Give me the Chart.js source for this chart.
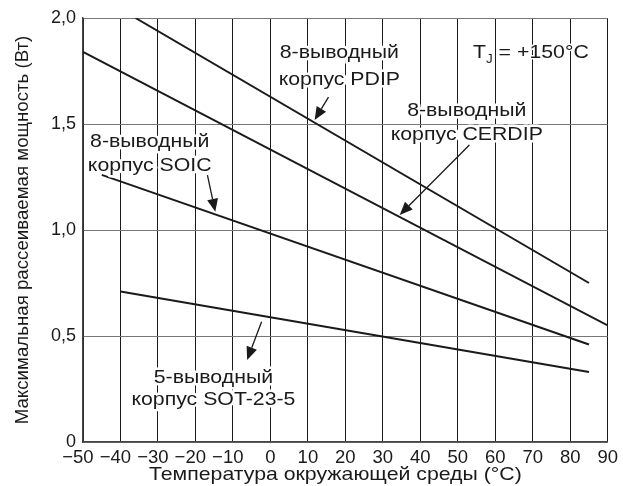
<!DOCTYPE html>
<html>
<head>
<meta charset="utf-8">
<script src="https://cdn.jsdelivr.net/npm/chart.js@4.4.1/dist/chart.umd.min.js"></script>
<style>
  html, body { margin: 0; padding: 0; background: #fff; }
  #wrap { width: 623px; height: 486px; position: relative; }
</style>
</head>
<body>
<div id="wrap"><canvas id="chartPotencia" width="623" height="486"></canvas></div>
<script>
// данные (температура, °C / мощность, Вт)
const pdipT = [-36, 85];
const pdipP = [2.0, 0.75];
const cerdipT = [-50, 90];
const cerdipP = [1.84, 0.55];
const soicT = [-45, 85];
const soicP = [1.26, 0.46];
const sotT = [-40, 85];
const sotP = [0.71, 0.33];

const xTicks = [-50, -40, -30, -20, -10, 0, 10, 20, 30, 40, 50, 60, 70, 80, 90];
const yTicks = [0, 0.5, 1.0, 1.5, 2.0];

const xTitulo = "Температура окружающей среды (°C)";
const yTitulo = "Максимальная рассеиваемая мощность (Вт)";

// подписи: строки текста, центр в единицах осей
const labels = [
    { lines: ["8-выводный", "корпус PDIP"], x: 18.4, y: [1.838, 1.711] },
    { lines: ["8-выводный", "корпус CERDIP"], x: 52.4, y: [1.564, 1.447] },
    { lines: ["8-выводный", "корпус SOIC"], x: -32.2, y: [1.414, 1.303] },
    { lines: ["5-выводный", "корпус SOT-23-5"], x: -15.2, y: [0.305, 0.201] }
];
// стрелки: откуда -> куда (в единицах осей)
const arrows = [
    { from: [15.5, 1.627], to: [11.8, 1.519] },
    { from: [53.1, 1.401], to: [34.5, 1.071] },
    { from: [-16.8, 1.259], to: [-14.7, 1.086] },
    { from: [-2.35, 0.567], to: [-6.2, 0.387] }
];
const tjPos = { x: 69.5, y: 1.835 };

const FONT = "'Liberation Sans', Arial, sans-serif";
const INK = "#1a1a1a";
const ESTIRAR = 1.12;   // текст в оригинале чуть растянут по горизонтали

function pts(t, p) {
    return t.map((v, i) => ({ x: v, y: p[i] }));
}

function serie(t, p) {
    return {
        data: pts(t, p),
        borderColor: INK,
        borderWidth: 2,
        pointRadius: 0,
        tension: 0,
        fill: false
    };
}

// текст с белым ореолом, растянутый по горизонтали
function texto(ctx, txt, x, y, size, align, halo) {
    ctx.save();
    ctx.translate(x, y);
    ctx.scale(ESTIRAR, 1);
    ctx.font = size + "px " + FONT;
    ctx.textAlign = align;
    ctx.textBaseline = "middle";
    if (halo) {
        ctx.strokeStyle = "#fff";
        ctx.lineWidth = halo;
        ctx.lineJoin = "round";
        ctx.strokeText(txt, 0, 0);
    }
    ctx.fillStyle = INK;
    ctx.fillText(txt, 0, 0);
    ctx.restore();
}

function ancho(ctx, txt, size) {
    ctx.save();
    ctx.font = size + "px " + FONT;
    const w = ctx.measureText(txt).width * ESTIRAR;
    ctx.restore();
    return w;
}

const anotaciones = {
    id: "anotaciones",
    afterDatasetsDraw(chart) {
        const ctx = chart.ctx;
        const xs = chart.scales.x;
        const ys = chart.scales.y;
        const area = chart.chartArea;

        labels.forEach(l => {
            const cx = xs.getPixelForValue(l.x);
            l.lines.forEach((txt, i) => {
                texto(ctx, txt, cx, ys.getPixelForValue(l.y[i]), 19, "center", 5);
            });
        });

        // стрелки
        ctx.save();
        arrows.forEach(a => {
            const x1 = xs.getPixelForValue(a.from[0]);
            const y1 = ys.getPixelForValue(a.from[1]);
            const x2 = xs.getPixelForValue(a.to[0]);
            const y2 = ys.getPixelForValue(a.to[1]);
            const ang = Math.atan2(y2 - y1, x2 - x1);
            const hl = 13, hw = 5.5;
            const bx = x2 - hl * Math.cos(ang);
            const by = y2 - hl * Math.sin(ang);
            ctx.strokeStyle = INK;
            ctx.lineWidth = 1.3;
            ctx.beginPath();
            ctx.moveTo(x1, y1);
            ctx.lineTo(bx, by);
            ctx.stroke();
            ctx.fillStyle = INK;
            ctx.beginPath();
            ctx.moveTo(x2, y2);
            ctx.lineTo(bx + hw * Math.sin(ang), by - hw * Math.cos(ang));
            ctx.lineTo(bx - hw * Math.sin(ang), by + hw * Math.cos(ang));
            ctx.closePath();
            ctx.fill();
        });
        ctx.restore();

        // T_J = +150°C
        const tx = xs.getPixelForValue(tjPos.x);
        const ty = ys.getPixelForValue(tjPos.y);
        const resto = " = +150°C";
        const wT = ancho(ctx, "T", 19);
        const wJ = ancho(ctx, "J", 12);
        const wR = ancho(ctx, resto, 19);
        const x0 = tx - (wT + wJ + wR) / 2;
        texto(ctx, "T", x0, ty, 19, "left", 3);
        texto(ctx, "J", x0 + wT, ty + 7, 12, "left", 3);
        texto(ctx, resto, x0 + wT + wJ, ty, 19, "left", 3);

        // подпись оси X
        texto(ctx, xTitulo, (area.left + area.right) / 2 - 10, 475, 19, "center", 0);
    }
};

const ctx = document.getElementById("chartPotencia").getContext("2d");

new Chart(ctx, {
    type: "line",
    data: {
        datasets: [
            serie(pdipT, pdipP),
            serie(cerdipT, cerdipP),
            serie(soicT, soicP),
            serie(sotT, sotP)
        ]
    },
    options: {
        responsive: false,
        animation: false,
        layout: { padding: { top: 18, right: 12, left: 0, bottom: 0 } },
        plugins: {
            legend: { display: false },
            tooltip: { enabled: false }
        },
        scales: {
            x: {
                type: "linear",
                min: -50,
                max: 90,
                afterFit: s => { s.height = 44; },
                afterBuildTicks: s => { s.ticks = xTicks.map(v => ({ value: v })); },
                ticks: {
                    autoSkip: false,
                    maxRotation: 0,
                    padding: 5,
                    color: INK,
                    font: { family: FONT, size: 18.5 },
                    // минус выступает влево, цифры остаются по центру деления
                    callback: v => v < 0 ? "\u2212" + Math.abs(v) + "  " : String(v)
                },
                grid: { color: INK, lineWidth: 1, drawTicks: false },
                border: { color: "#444", width: 1.5 }
            },
            y: {
                min: 0,
                max: 2,
                afterFit: s => { s.width = 83; },
                afterBuildTicks: s => { s.ticks = yTicks.map(v => ({ value: v })); },
                ticks: {
                    padding: 7,
                    color: INK,
                    font: { family: FONT, size: 18 },
                    callback: v => v === 0 ? "0" : v.toFixed(1).replace(".", ",")
                },
                grid: { color: "#777", lineWidth: 1, drawTicks: false },
                border: { color: "#444", width: 1.5 },
                title: {
                    display: true,
                    text: yTitulo,
                    color: INK,
                    font: { family: FONT, size: 18.7 },
                    padding: { top: 12, bottom: 0 }
                }
            }
        }
    },
    plugins: [anotaciones]
});
</script>
</body>
</html>
